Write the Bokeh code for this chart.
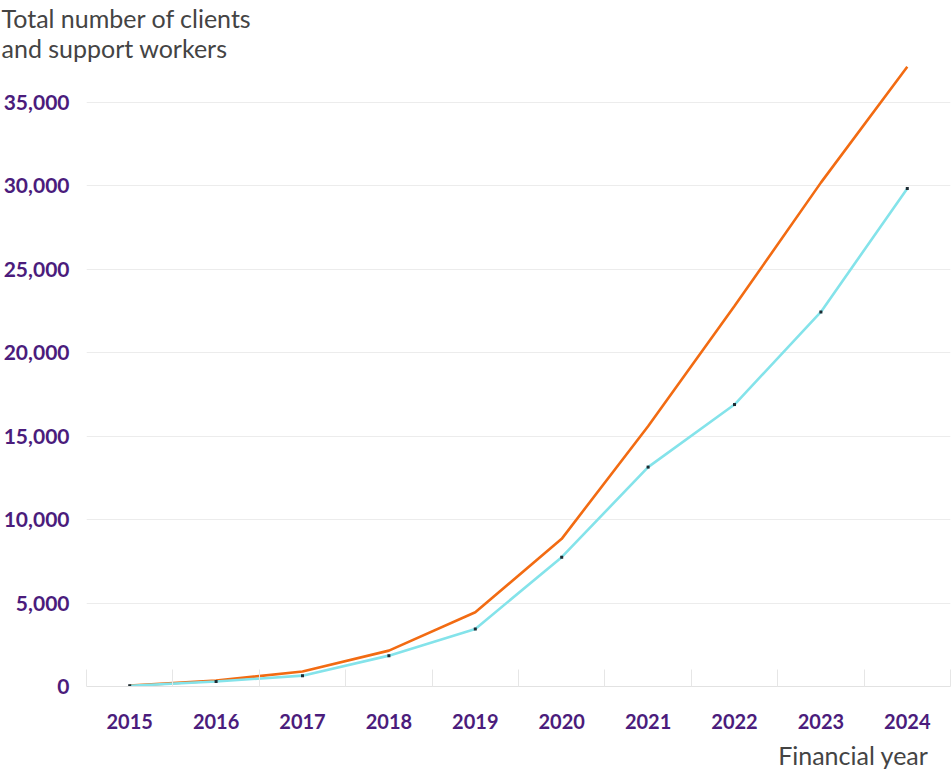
from bokeh.plotting import figure
from bokeh.models import (FixedTicker, NumeralTickFormatter, Title, ColumnDataSource, Range1d)
from bokeh.embed import file_html
from bokeh.resources import INLINE

years = ["2015", "2016", "2017", "2018", "2019", "2020", "2021", "2022", "2023", "2024"]
clients = [50, 350, 900, 2150, 4450, 8850, 15600, 22800, 30200, 37150]
workers = [40, 300, 650, 1850, 3450, 7750, 13150, 16900, 22450, 29850]
y_ticks = [0, 5000, 10000, 15000, 20000, 25000, 30000, 35000]

xs = list(range(len(years)))
src = ColumnDataSource(dict(x=xs, clients=clients, workers=workers))

PURPLE = "#4b1c7c"
FONT = "Lato"

p = figure(width=951, height=778, output_backend="svg", toolbar_location=None,
           x_range=Range1d(-0.5, len(years) - 0.5), y_range=Range1d(0, 37400),
           min_border_left=85, min_border_right=1, min_border_top=60, min_border_bottom=92)
p.outline_line_color = None
p.background_fill_color = "white"
p.border_fill_color = "white"

p.line("x", "clients", source=src, line_color="#f26b12", line_width=2.6)
p.line("x", "workers", source=src, line_color="#84e3ea", line_width=2.6)
p.scatter("x", "workers", source=src, marker="square", size=3, fill_color="#1d2b33", line_color=None)

# title (two lines)
p.title.text = "Total number of clients\nand support workers"
p.title.align = "left"
p.title.offset = -85
p.title.text_font = FONT
p.title.text_font_style = "normal"
p.title.text_font_size = "25px"
p.title.text_color = "#444444"
p.title.text_line_height = 1.0
p.title.standoff = 0

p.add_layout(Title(text="Financial year", align="right", offset=22, text_font=FONT,
                   text_font_style="normal", text_font_size="25px", text_color="#444444",
                   text_line_height=1.0, standoff=12), "below")

# axes
p.xaxis.ticker = FixedTicker(ticks=xs, minor_ticks=[i - 0.5 for i in range(len(years) + 1)])
p.xaxis.major_label_overrides = {i: y for i, y in enumerate(years)}
p.xaxis.major_tick_line_color = None
p.xaxis.minor_tick_in = 17
p.xaxis.minor_tick_out = 0
p.xaxis.minor_tick_line_color = "#e6e6e6"
p.xaxis.axis_line_color = "#e2e2e2"
p.xaxis.major_label_standoff = 21
p.xaxis.major_label_text_font = FONT
p.xaxis.major_label_text_font_style = "bold"
p.xaxis.major_label_text_font_size = "20px"
p.xaxis.major_label_text_color = PURPLE

p.yaxis.ticker = FixedTicker(ticks=y_ticks)
p.yaxis.formatter = NumeralTickFormatter(format="0,0")
p.yaxis.axis_line_color = None
p.yaxis.major_tick_line_color = None
p.yaxis.minor_tick_line_color = None
p.yaxis.major_label_standoff = 11
p.yaxis.major_label_text_font = FONT
p.yaxis.major_label_text_font_style = "bold"
p.yaxis.major_label_text_font_size = "21px"
p.yaxis.major_label_text_color = PURPLE

p.xgrid.grid_line_color = None
p.ygrid.ticker = FixedTicker(ticks=y_ticks)
p.ygrid.grid_line_color = "#ececec"
p.ygrid.grid_line_width = 1

open("out.html", "w").write(file_html(p, INLINE))
